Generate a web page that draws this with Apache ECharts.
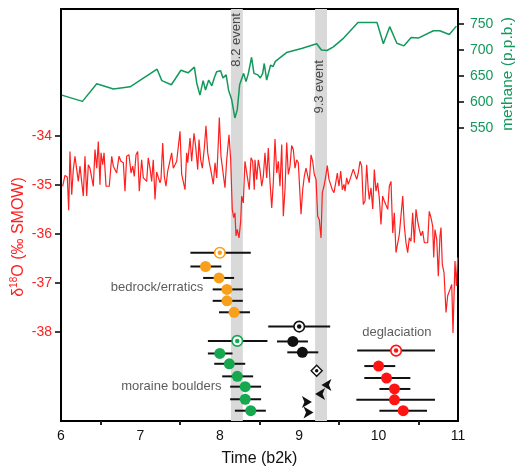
<!DOCTYPE html>
<html>
<head>
<meta charset="utf-8">
<script src="https://cdn.jsdelivr.net/npm/echarts@6.0.0/dist/echarts.min.js"></script>
<style>
html, body { margin: 0; padding: 0; background: #fff; }
#chart { width: 516px; height: 472px; }
</style>
</head>
<body>
<div id="chart"></div>
<script>
// δ18O record (‰ SMOW) against time (ka b2k)
const d18Time = [
  6.021,6.050,6.079,6.097,6.113,6.135,6.155,6.176,6.198,6.218,6.239,6.261,6.281,6.302,6.324,6.344,6.365,6.387,6.407,6.428,
  6.450,6.470,6.491,6.504,6.525,6.542,6.567,6.608,6.639,6.659,6.680,6.701,6.730,6.756,6.785,6.806,6.827,6.856,6.882,6.903,
  6.923,6.945,6.966,6.986,7.016,7.037,7.058,7.079,7.099,7.121,7.142,7.162,7.184,7.205,7.225,7.247,
  7.259,7.281,7.301,7.322,7.344,7.369,7.394,7.414,7.436,7.457,7.477,7.499,7.520,7.540,7.562,7.583,7.596,7.625,7.646,7.675,
  7.696,7.722,7.738,7.759,7.780,7.805,7.826,7.848,7.868,7.889,7.918,7.940,7.961,7.981,7.994,8.015,8.036,8.065,8.087,8.099,
  8.116,8.137,8.157,8.175,8.191,8.204,8.220,8.242,8.263,8.276,8.296,8.317,8.346,8.371,8.393,8.414,8.434,
  8.443,8.465,8.485,8.506,8.528,8.548,8.569,8.591,8.611,8.632,8.654,8.674,8.695,8.717,8.737,8.758,8.780,8.800,8.821,8.843,
  8.863,8.884,8.905,8.926,8.947,8.968,8.989,9.010,9.023,9.044,9.064,9.086,9.107,9.127,9.149,9.170,9.190,9.212,9.233,9.253,
  9.275,9.291,9.312,9.334,9.354,9.375,9.397,9.417,9.438,9.460,9.480,9.501,9.523,9.543,9.564,
  9.577,9.598,9.618,9.640,9.661,9.681,9.703,9.724,9.744,9.766,9.787,9.807,9.829,9.850,9.870,9.883,9.904,9.926,9.946,9.967,
  9.988,10.009,10.030,10.051,10.072,10.093,10.115,10.135,10.156,10.178,10.198,10.219,10.241,10.261,10.282,10.304,10.324,10.345,10.366,10.387,
  10.408,10.429,10.450,10.471,10.492,10.513,10.534,10.555,10.576,10.597,10.618,10.638,10.660,10.681,10.694,10.710,10.732,10.752,10.773,10.786,
  10.802,10.824,10.849,10.870,10.899,10.921,10.937,10.962,10.979,10.996
];
const d18Value = [
  -35.03,-34.81,-34.84,-35.52,-34.32,-35.20,-34.69,-34.42,-34.45,-34.93,-34.62,-34.62,-35.23,-34.42,-35.23,-34.59,-34.66,-34.86,-35.03,-34.28,
  -34.66,-34.12,-35.00,-34.35,-34.59,-34.35,-35.03,-35.03,-34.42,-34.62,-34.59,-34.76,-34.42,-34.52,-34.55,-35.13,-34.42,-34.39,-34.76,-34.62,
  -34.83,-34.39,-34.32,-35.13,-34.49,-34.86,-34.89,-34.93,-34.45,-34.66,-34.93,-34.49,-35.30,-34.74,-34.72,-34.96,
  -34.89,-34.15,-34.83,-35.03,-34.72,-34.69,-34.35,-34.66,-34.59,-34.52,-34.49,-33.91,-34.79,-34.83,-35.10,-34.35,-34.55,-34.05,-34.52,-33.95,
  -34.22,-34.69,-34.08,-34.49,-34.66,-34.25,-33.80,-34.35,-34.55,-34.72,-34.99,-34.55,-34.86,-34.15,-33.63,-34.42,-34.45,-35.06,-34.49,-34.52,
  -33.98,-34.49,-35.50,-35.67,-35.57,-36.04,-35.91,-36.08,-35.74,-35.23,-35.37,-34.52,-34.83,-35.10,-34.45,-34.52,-35.10,
  -34.49,-34.89,-34.49,-34.69,-35.03,-34.83,-34.35,-34.86,-34.25,-34.93,-35.47,-34.96,-34.07,-34.76,-34.52,-35.03,-34.18,-35.64,-35.10,-34.14,
  -34.79,-34.62,-34.20,-34.28,-34.66,-34.49,-34.55,-35.20,-35.60,-35.10,-34.83,-34.66,-34.69,-34.96,-34.39,-34.52,-34.79,-34.89,-35.64,-35.71,
  -36.08,-35.16,-35.03,-34.83,-34.61,-34.89,-34.86,-35.10,-35.16,-34.96,-34.76,-35.03,-34.72,-35.10,-34.99,
  -35.13,-34.86,-34.99,-34.89,-34.86,-34.68,-34.72,-34.89,-34.76,-34.52,-34.62,-35.40,-35.33,-34.59,-35.10,-35.30,-35.06,-35.49,-34.69,-35.13,
  -34.96,-35.27,-35.81,-35.23,-35.33,-35.30,-35.50,-35.03,-34.93,-35.98,-35.57,-36.38,-36.42,-36.01,-36.04,-35.23,-35.84,-36.18,-36.38,-36.08,
  -36.15,-35.57,-36.18,-35.50,-35.74,-35.91,-36.04,-35.94,-36.18,-36.17,-36.18,-35.54,-35.67,-35.84,-36.48,-35.91,-36.11,-36.86,-36.04,-35.87,
  -36.62,-36.79,-37.60,-37.26,-37.13,-37.03,-38.02,-36.55,-37.06,-36.48
];

// methane (p.p.b.)
const ch4Time = [6.01,6.27,6.45,6.66,6.87,7.21,7.27,7.39,7.51,7.60,7.68,7.71,7.75,7.79,7.82,7.86,7.90,7.93,7.96,8.01,
  8.04,8.08,8.11,8.15,8.19,8.22,8.25,8.30,8.33,8.36,8.40,8.43,8.48,8.51,8.54,8.56,8.59,8.61,8.64,8.67,
  8.70,8.84,9.03,9.22,9.28,9.35,9.43,9.56,9.74,9.98,10.06,10.14,10.23,10.32,10.41,10.50,10.69,10.77,10.89,10.98];
const ch4Value = [613,601,635,625,629,663,641,633,661,656,667,636,613,641,623,642,631,646,658,660,
  646,652,623,604,569,585,633,655,639,655,686,655,652,646,655,674,642,639,671,668,
  678,695,703,712,700,699,706,723,753,753,712,745,713,708,724,723,737,737,730,746];

// cold events (ka)
const eventName = ['8.2 event', '9.3 event'];
const eventStart = [8.14, 9.20];
const eventEnd = [8.29, 9.35];
const eventLabelT = [8.21, 9.26];
const eventLabelRow = [2.7, 6.8];

// exposure ages: first entry of each group is the mean (open symbol)
const orangeT = [8.00, 7.82, 7.99, 8.09, 8.09, 8.18];
const orangeLo = [7.63, 7.63, 7.79, 7.91, 7.91, 7.99];
const orangeHi = [8.39, 8.02, 8.18, 8.29, 8.29, 8.38];
const orangeRow = [21.3, 22.5, 23.5, 24.5, 25.5, 26.5];

const greenT = [8.22, 8.00, 8.12, 8.22, 8.32, 8.32, 8.39];
const greenLo = [7.85, 7.85, 7.93, 8.03, 8.13, 8.13, 8.19];
const greenHi = [8.60, 8.16, 8.32, 8.42, 8.52, 8.52, 8.58];
const greenRow = [29.0, 30.1, 31.0, 32.1, 33.0, 34.1, 35.1];

const blackT = [9.00, 8.92, 9.04];
const blackLo = [8.61, 8.72, 8.85];
const blackHi = [9.39, 9.11, 9.24];
const blackRow = [27.75, 29.05, 30.0];

const diamondT = [9.22];
const diamondRow = [31.6];

const arrowT = [9.28, 9.20, 9.16, 9.18];
const arrowRow = [32.85, 33.65, 34.35, 35.25];
const arrowDir = ['left', 'left', 'right', 'right'];

const redT = [10.22, 10.00, 10.10, 10.20, 10.20, 10.31];
const redLo = [9.73, 9.82, 9.82, 10.01, 9.72, 10.01];
const redHi = [10.71, 10.21, 10.40, 10.40, 10.71, 10.61];
const redRow = [29.85, 31.2, 32.25, 33.2, 34.15, 35.1];

const noteText = ['bedrock/erratics', 'moraine boulders', 'deglaciation'];
const noteT = [7.21, 7.39, 10.23];
const noteRow = [24.3, 32.95, 28.3];

const d18Ticks = [-38, -37, -36, -35, -34];
const ch4Ticks = [550, 600, 650, 700, 750];
const timeMinorTicks = [6.5, 7.5, 8.5, 9.5, 10.5];

const FONT = 'Liberation Sans, Arial, sans-serif';
const RED = '#ff1f1f';
const GREEN_LINE = '#12995b';
const ORANGE = '#f8a01c';
const GREEN_DOT = '#14a84f';
const RED_DOT = '#ff1414';

const chart = echarts.init(document.getElementById('chart'));

function pairs(xs, ys) { return xs.map((x, i) => [x, ys[i]]); }
function bars(lo, hi, row) { return lo.map((l, i) => [l, hi[i], row[i]]); }

const allBars = [].concat(
  bars(orangeLo, orangeHi, orangeRow),
  bars(greenLo, greenHi, greenRow),
  bars(blackLo, blackHi, blackRow),
  bars(redLo, redHi, redRow)
);

function errBar(params, api) {
  const a = api.coord([api.value(0), api.value(2)]);
  const b = api.coord([api.value(1), api.value(2)]);
  return {
    type: 'line',
    shape: { x1: a[0], y1: a[1], x2: b[0], y2: b[1] },
    style: { stroke: '#111', lineWidth: 2 }
  };
}

function filled(name, ts, rows, color) {
  return {
    name: name, type: 'scatter', xAxisIndex: 0, yAxisIndex: 2, z: 4,
    symbol: 'circle', symbolSize: 11,
    itemStyle: { color: color, opacity: 1 },
    data: pairs(ts.slice(1), rows.slice(1))
  };
}
function openRing(ts, rows, color) {
  return {
    type: 'scatter', xAxisIndex: 0, yAxisIndex: 2, z: 4,
    symbol: 'circle', symbolSize: 10.5,
    itemStyle: { color: '#fff', borderColor: color, borderWidth: 1.6, opacity: 1 },
    data: [[ts[0], rows[0]]]
  };
}
function openDot(ts, rows, color) {
  return {
    type: 'scatter', xAxisIndex: 0, yAxisIndex: 2, z: 5,
    symbol: 'circle', symbolSize: 4.5,
    itemStyle: { color: color, opacity: 1 },
    data: [[ts[0], rows[0]]]
  };
}

chart.setOption({
  animation: false,
  grid: { left: 61, right: 58, top: 9, bottom: 50, show: true, borderColor: '#000', borderWidth: 2 },
  xAxis: {
    type: 'value', min: 6, max: 11, interval: 1,
    axisLine: { show: true, onZero: false, lineStyle: { color: '#000', width: 2 } },
    axisTick: { show: true, customValues: timeMinorTicks, length: 4, lineStyle: { color: '#222', width: 2 } },
    axisLabel: { color: '#111', fontSize: 14, fontFamily: FONT, margin: 8 },
    splitLine: { show: false },
    name: 'Time (b2k)', nameLocation: 'middle', nameGap: 30,
    nameTextStyle: { color: '#111', fontSize: 16, fontFamily: FONT }
  },
  yAxis: [
    {
      type: 'value', min: -39.81, max: -31.42, position: 'left',
      axisLine: { show: true, onZero: false, lineStyle: { color: '#000', width: 2 } },
      axisTick: { show: true, customValues: d18Ticks, length: 6, lineStyle: { color: '#000', width: 1.5 } },
      axisLabel: { customValues: d18Ticks, color: RED, fontSize: 14, fontFamily: FONT, margin: 9 },
      splitLine: { show: false }
    },
    {
      type: 'value', min: -15, max: 779, position: 'right',
      axisLine: { show: true, onZero: false, lineStyle: { color: '#000', width: 2 } },
      axisTick: { show: true, customValues: ch4Ticks, length: 6, lineStyle: { color: '#000', width: 1.5 } },
      axisLabel: { customValues: ch4Ticks, color: GREEN_LINE, fontSize: 14, fontFamily: FONT, margin: 12 },
      splitLine: { show: false }
    },
    { type: 'value', min: 0, max: 36, inverse: true, show: false }
  ],
  graphic: [
    {
      type: 'text', x: 19, y: 237, rotation: Math.PI / 2,
      style: {
        text: '{a|δ}{s|18}{a|O (‰ SMOW)}',
        align: 'center', verticalAlign: 'middle',
        rich: {
          a: { fontSize: 16, lineHeight: 20, fill: RED, fontFamily: FONT },
          s: { fontSize: 10, lineHeight: 20, fill: RED, fontFamily: FONT, verticalAlign: 'top' }
        }
      }
    },
    {
      type: 'text', x: 508, y: 74, rotation: Math.PI / 2,
      style: {
        text: 'methane (p.p.b.)', fill: GREEN_LINE, fontSize: 15.5, fontFamily: FONT,
        align: 'center', verticalAlign: 'middle'
      }
    }
  ],
  series: [
    {
      type: 'line', data: [], z: 0,
      markArea: {
        silent: true,
        itemStyle: { color: '#d9d9d9' },
        data: eventStart.map((s, i) => [{ xAxis: s }, { xAxis: eventEnd[i] }])
      }
    },
    {
      name: 'methane', type: 'line', xAxisIndex: 0, yAxisIndex: 1, z: 2,
      showSymbol: false, symbol: 'none',
      lineStyle: { color: GREEN_LINE, width: 1.5 },
      data: pairs(ch4Time, ch4Value)
    },
    {
      name: 'd18O', type: 'line', xAxisIndex: 0, yAxisIndex: 0, z: 2,
      showSymbol: false, symbol: 'none',
      lineStyle: { color: RED, width: 1.2 },
      data: pairs(d18Time, d18Value)
    },
    {
      type: 'custom', xAxisIndex: 0, yAxisIndex: 2, z: 3,
      renderItem: errBar, encode: { x: [0, 1], y: 2 },
      data: allBars
    },
    filled('bedrock', orangeT, orangeRow, ORANGE),
    filled('moraine', greenT, greenRow, GREEN_DOT),
    filled('black', blackT, blackRow, '#111'),
    filled('deglaciation', redT, redRow, RED_DOT),
    openRing(orangeT, orangeRow, ORANGE), openDot(orangeT, orangeRow, ORANGE),
    openRing(greenT, greenRow, GREEN_DOT), openDot(greenT, greenRow, GREEN_DOT),
    openRing(blackT, blackRow, '#111'), openDot(blackT, blackRow, '#111'),
    openRing(redT, redRow, RED_DOT), openDot(redT, redRow, RED_DOT),
    {
      type: 'scatter', xAxisIndex: 0, yAxisIndex: 2, z: 4,
      symbol: 'diamond', symbolSize: 11,
      itemStyle: { color: '#fff', borderColor: '#111', borderWidth: 1.4, opacity: 1 },
      data: pairs(diamondT, diamondRow)
    },
    {
      type: 'scatter', xAxisIndex: 0, yAxisIndex: 2, z: 5,
      symbol: 'circle', symbolSize: 3.5,
      itemStyle: { color: '#111', opacity: 1 },
      data: pairs(diamondT, diamondRow)
    },
    {
      type: 'scatter', xAxisIndex: 0, yAxisIndex: 2, z: 4,
      symbol: 'arrow', symbolSize: [9, 10],
      itemStyle: { color: '#111', opacity: 1 },
      data: arrowT.map((t, i) => ({ value: [t, arrowRow[i]], symbolRotate: arrowDir[i] === 'left' ? 90 : -90 }))
    },
    {
      type: 'scatter', xAxisIndex: 0, yAxisIndex: 2, z: 6, symbolSize: 0, silent: true,
      label: { show: true, position: 'inside', formatter: p => p.name, color: '#333', fontSize: 13, fontFamily: FONT },
      data: noteText.map((n, i) => ({ name: n, value: [noteT[i], noteRow[i]] }))
    },
    {
      type: 'scatter', xAxisIndex: 0, yAxisIndex: 2, z: 6, symbolSize: 0, silent: true,
      label: { show: true, position: 'inside', rotate: 90, formatter: p => p.name, color: '#222', fontSize: 13, fontFamily: FONT },
      data: eventName.map((n, i) => ({ name: n, value: [eventLabelT[i], eventLabelRow[i]] }))
    }
  ]
});
</script>
</body>
</html>
